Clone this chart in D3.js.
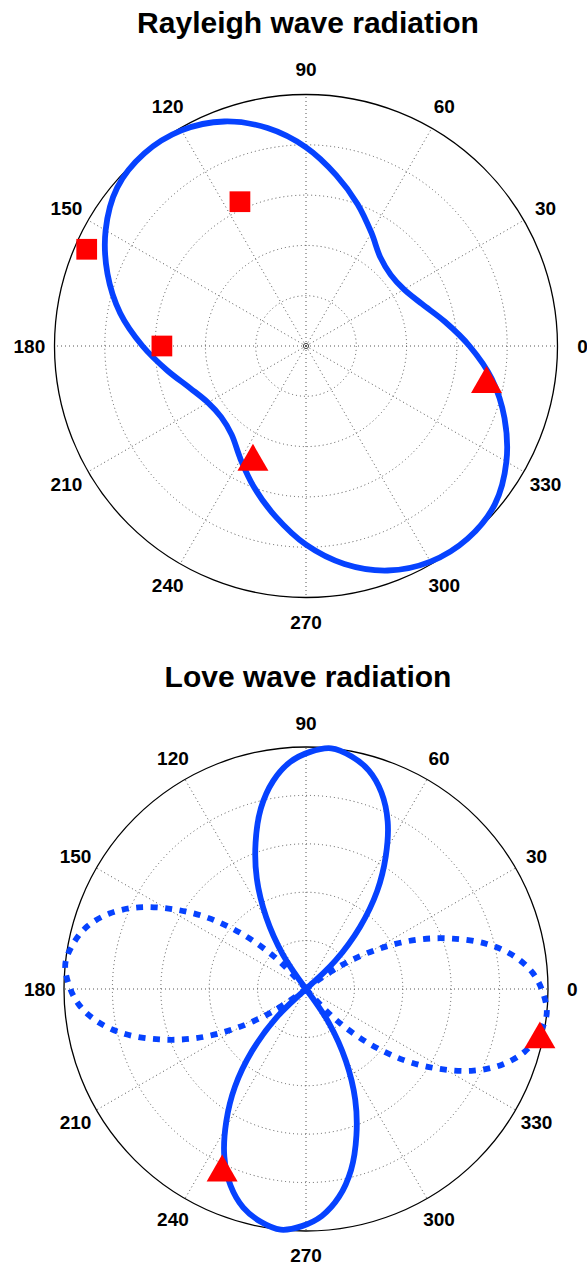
<!DOCTYPE html>
<html><head><meta charset="utf-8">
<script src="https://cdn.jsdelivr.net/npm/d3@7"></script>
<style>
body{margin:0;background:#fff}
svg{display:block}
text{font-family:"Liberation Sans",Arial,Helvetica,sans-serif;font-weight:bold;fill:#000}
</style>
</head><body><script>
// ---- data ----
const angleTicks = [0,30,60,90,120,150,180,210,240,270,300,330];
const angleTickLabels = ["0","30","60","90","120","150","180","210","240","270","300","330"];
const ringTicks = [0.2,0.4,0.6,0.8];
const titles = ["Rayleigh wave radiation","Love wave radiation"];

const rayleighAngles = [0,10,20,30,40,50,60,70,80,90,100,110,120,130,140,150,160,170,
                        180,190,200,210,220,230,240,250,260,270,280,290,300,310,320,330,340,350];
const rayleighR = [0.65,0.56,0.49,0.45,0.44,0.46,0.52,0.60,0.69,0.79,0.88,0.95,0.99,1.00,0.98,0.92,0.84,0.75,
                   0.65,0.56,0.49,0.45,0.44,0.46,0.52,0.60,0.69,0.79,0.88,0.95,0.99,1.00,0.98,0.92,0.84,0.75];
const rayleighSquares = [[114.6,0.631],[156.2,0.953],[180,0.573]];
const rayleighTriangles = [[349.5,0.73],[244.5,0.49]];

const loveAngles = [4,9,14,19,24,29,34,39,44,49,54,59,64,69,74,79,84,89,94,99,104,109,114,119,124,129,
                    134,139,144,149,154,159,164,169,174,179,184,189,194,199,204,209,214,219,
                    224,229,234,239,244,249,254,259,264,269,274,279,284,289,294,299,304,309,
                    314,319,324,329,334,339,344,349,354,359];
const loveAmp = [-0.94,-0.87,-0.77,-0.64,-0.50,-0.34,-0.17,0,0.17,0.34,0.50,0.64,0.77,0.87,0.94,0.98,1.00,0.98,0.94,0.87,0.77,0.64,0.50,0.34,0.17,0,
                 -0.17,-0.34,-0.50,-0.64,-0.77,-0.87,-0.94,-0.98,-1.00,-0.98,-0.94,-0.87,-0.77,-0.64,-0.50,-0.34,-0.17,0,
                 0.17,0.34,0.50,0.64,0.77,0.87,0.94,0.98,1.00,0.98,0.94,0.87,0.77,0.64,0.50,0.34,0.17,0,
                 -0.17,-0.34,-0.50,-0.64,-0.77,-0.87,-0.94,-0.98,-1.00,-0.98];
const loveTriangles = [[348.9,0.985],[244.9,0.817]];

// ---- drawing ----
const W = 587, H = 1267;
const BLUE = "#0642ff", RED = "#ff0000";
const svg = d3.select("body").append("svg").attr("width", W).attr("height", H);
const angle = d3.scaleLinear().domain([0, 360]).range([Math.PI/2, Math.PI/2 - 2*Math.PI]);

function panel(cx, cy, R, titleY, title) {
  const r = d3.scaleLinear().domain([0, 1]).range([0, R]);
  const g = svg.append("g").attr("transform", `translate(${cx},${cy})`);
  const px = (t, v) => r(v) * Math.sin(angle(t));
  const py = (t, v) => -r(v) * Math.cos(angle(t));

  svg.append("text").attr("x", cx + 2).attr("y", titleY).attr("text-anchor", "middle")
     .attr("font-size", 30).text(title);

  // dotted rings
  g.selectAll(".ring").data(ringTicks).join("circle")
    .attr("r", d => r(d)).attr("fill", "none")
    .attr("stroke", "#555").attr("stroke-width", 1).attr("stroke-dasharray", "1,3");
  // dotted spokes
  g.selectAll(".spoke").data(angleTicks).join("line")
    .attr("x1", 0).attr("y1", 0)
    .attr("x2", d => px(d, 1)).attr("y2", d => py(d, 1))
    .attr("stroke", "#555").attr("stroke-width", 1).attr("stroke-dasharray", "1,3");
  // outer circle
  g.append("circle").attr("r", r(1)).attr("fill", "none").attr("stroke", "#000").attr("stroke-width", 1.3);
  // labels
  g.selectAll(".lab").data(angleTicks).join("text")
    .attr("x", d => px(d, 1.1)).attr("y", d => py(d, 1.1))
    .attr("dy", "0.36em").attr("text-anchor", "middle").attr("font-size", 19)
    .text((d, i) => angleTickLabels[i]);
  // center marker
  g.append("circle").attr("r", 2.6).attr("fill", "none").attr("stroke", "#444").attr("stroke-width", 1);
  return {g, r, px, py};
}

const triSize = 416;
const triShift = Math.sqrt(triSize / (3 * Math.sqrt(3))) / 2;
function triangles(P, data) {
  P.g.selectAll(null).data(data).join("path")
    .attr("d", d3.symbol(d3.symbolTriangle, triSize))
    .attr("transform", d => `translate(${P.px(d[0], d[1])},${P.py(d[0], d[1]) + triShift})`)
    .attr("fill", RED);
}

// Rayleigh
const P1 = panel(306, 346, 251.5, 33, titles[0]);
const rLine = d3.lineRadial()
  .angle(d => angle(d[0])).radius(d => P1.r(d[1]))
  .curve(d3.curveCatmullRomClosed.alpha(0.5));
P1.g.append("path").datum(rayleighAngles.map((a, i) => [a, rayleighR[i]]))
  .attr("d", rLine).attr("fill", "none").attr("stroke", BLUE).attr("stroke-width", 5.8);
P1.g.selectAll(null).data(rayleighSquares).join("path")
  .attr("d", d3.symbol(d3.symbolSquare, 430))
  .attr("transform", d => `translate(${P1.px(d[0], d[1])},${P1.py(d[0], d[1])})`)
  .attr("fill", RED);
triangles(P1, rayleighTriangles);

// Love
const P2 = panel(306, 989, 242, 687, titles[1]);
let pts = loveAngles.map((a, i) => [a, loveAmp[i]]);
const z0 = pts.findIndex(d => d[1] === 0);
pts = pts.slice(z0).concat(pts.slice(0, z0 + 1).map(d => [d[0] + 360, d[1]]));
const segs = [];
let cur = [pts[0]];
for (let i = 1; i < pts.length; i++) {
  cur.push(pts[i]);
  if (pts[i][1] === 0) { segs.push(cur); cur = [pts[i]]; }
}
const lLine = d3.lineRadial()
  .angle(d => angle(d[0])).radius(d => P2.r(Math.abs(d[1])))
  .curve(d3.curveCatmullRom.alpha(0.5));
P2.g.selectAll(null).data(segs).join("path")
  .attr("d", lLine).attr("fill", "none").attr("stroke", BLUE).attr("stroke-width", 5.8)
  .attr("stroke-dasharray", d => d.some(p => p[1] < 0) ? "7,7.5" : null);
triangles(P2, loveTriangles);
</script></body></html>
